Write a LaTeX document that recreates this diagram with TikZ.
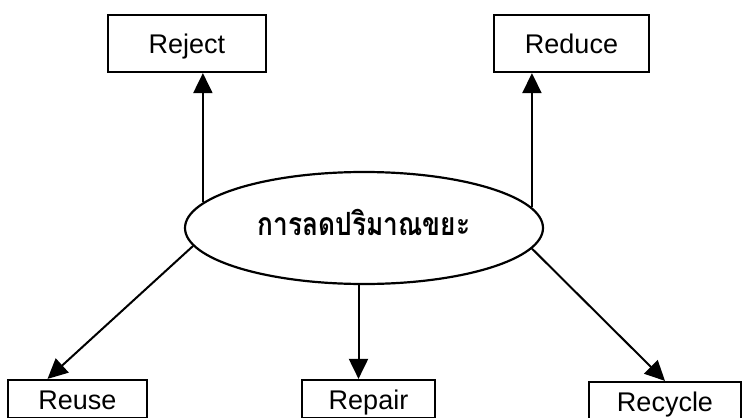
\documentclass[tikz,border=0pt]{standalone}
\usepackage{fontspec}
\setmainfont{Liberation Sans}
\newfontfamily\thaifont[Script=Thai, FakeStretch=0.82]{Loma}
\usetikzlibrary{arrows.meta,shapes.geometric}
\begin{document}
	\begin{tikzpicture}[x=1pt, y=-1pt,
		box/.style={draw, line width=2.2pt, inner sep=0pt, text height=20pt, text depth=0pt,
			font=\fontsize{27}{32}\selectfont},
		arr/.style={-{Triangle[length=20pt, width=19pt]}, line width=2pt}]
		\useasboundingbox (0,0) rectangle (743,417);
		\clip (0,0) rectangle (743,417);
		\node[box, minimum width=158pt, minimum height=57pt] (reject) at (187,43.5) {Reject};
		\node[box, minimum width=155pt, minimum height=57pt] (reduce) at (571.5,43.5) {Reduce};
		\node[box, minimum width=139pt, minimum height=38pt] (reuse) at (77.5,399) {Reuse};
		\node[box, minimum width=133pt, minimum height=38pt] (repair) at (368.5,399) {Repair};
		\node[box, minimum width=152pt, minimum height=38pt] (recycle) at (665,401) {Recycle};
		\node[ellipse, draw, line width=2.2pt, inner sep=0pt, minimum width=358pt, minimum height=112pt,
		text height=22pt, text depth=8pt,
		font=\thaifont\bfseries\fontsize{32}{36}\selectfont] (ell) at (364,228) {การลดปริมาณขยะ};
		\draw[arr] (ell.171) -- (ell.171 |- reject.south);
		\draw[arr] (ell.7) -- (ell.7 |- reduce.south);
		\draw[arr] (ell.186) -- ([xshift=-30pt]reuse.north);
		\draw[arr] ([xshift=-10pt]repair.north |- ell.south) -- ([xshift=-10pt]repair.north);
		\draw[arr] (ell.353) -- (recycle.north);
	\end{tikzpicture}
\end{document}
